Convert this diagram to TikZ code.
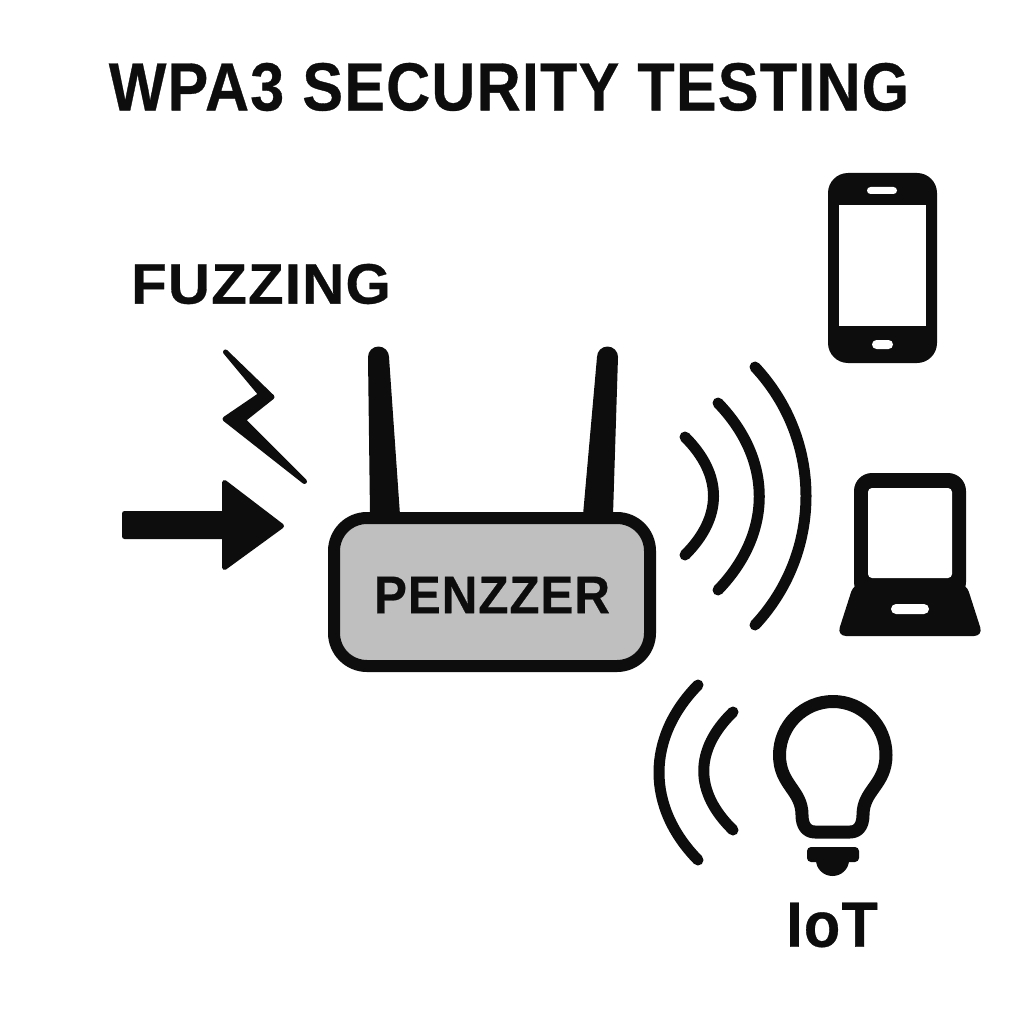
\documentclass[tikz,border=0pt]{standalone}
\usepackage{fontspec}
\setmainfont[BoldFeatures={FakeBold=0.5,LetterSpace=2}]{Liberation Sans}
\definecolor{ink}{HTML}{0D0D0D}
\tikzset{
  wave/.style={draw=ink,line width=11pt,line cap=round},
  solid shape/.style={fill=ink,draw=ink,line width=5pt,line join=round},
  hole/.style={fill=white},
  label text/.style={text=ink,font=\bfseries,inner sep=0pt,anchor=center}
}
\begin{document}
\begin{tikzpicture}[x=1pt,y=-1pt]
\useasboundingbox (0,0) rectangle (1024,1024);
\fill[white] (0,0) rectangle (1024,1024);
% texts
\node[label text] (title) at (509,87) {\scalebox{0.897}[1]{\fontsize{68}{68}\selectfont WPA3 SECURITY TESTING}};
\node[label text] (fuzz) at (261,284) {\scalebox{1.023}[1]{\fontsize{57}{57}\selectfont FUZZING}};
\node[label text] (iot) at (832,925) {\scalebox{0.93}[1]{\fontsize{64}{64}\selectfont IoT}};
% lightning
\path[solid shape] (225.5,352) -- (272,397) -- (243,420) -- (304.5,481.5) -- (225,419) -- (261,394.5) -- cycle;
% arrow
\path[solid shape] (124.5,513.5) -- (224.5,513.5) -- (224.5,482.5) -- (281.5,526) -- (224.5,567.5) -- (224.5,536.5) -- (124.5,536.5) -- cycle;
% antennas
\fill[ink] (370,515) -- (368,357) arc[start angle=180,end angle=360,x radius=10.5,y radius=10.5] -- (400,515) -- cycle;
\fill[ink] (583,515) -- (597,357) arc[start angle=180,end angle=360,x radius=10.5,y radius=10.5] -- (613,515) -- cycle;
% router
\node[draw=ink,line width=12pt,fill=black!25,rounded corners=33pt,minimum width=316pt,minimum height=148pt,inner sep=0pt] (router) at (492,592) {};
\node[label text] (pen) at (492,595) {\scalebox{0.93}[1]{\fontsize{53}{53}\selectfont PENZZER}};
% right waves
\draw[wave] (685,437) .. controls (723,475) and (723,517) .. (685,555);
\draw[wave] (718,403) .. controls (773,460) and (773,533) .. (718,590);
\draw[wave] (755,367) .. controls (823,440) and (823,552) .. (755,625);
% IoT waves
\draw[wave] (698,685) .. controls (646,738) and (646,807) .. (698,860);
\draw[wave] (733,712) .. controls (694,750) and (694,792) .. (733,830);
% phone
\fill[ink,rounded corners=20pt] (828,173) rectangle (937,363);
\fill[hole] (839,205) rectangle (926,326);
\fill[hole,rounded corners=3.5pt] (867,187) rectangle (897,194);
\fill[hole,rounded corners=4.5pt] (872,340) rectangle (893,349);
% laptop
\fill[ink,rounded corners=18pt] (854,473) rectangle (966,600);
\fill[ink,rounded corners=9pt] (854,583) -- (966,583) -- (983,636) -- (837,636) -- cycle;
\fill[hole,rounded corners=4pt] (868,488) rectangle (952,578);
\fill[hole,rounded corners=5pt] (891,604) rectangle (929,614);
% bulb
\draw[ink,line width=13pt,line join=round]
  (833,701.5) .. controls (862,701.5) and (886,725) .. (886,755)
  .. controls (886,785) and (863,790) .. (863,815)
  .. controls (863,826) and (858,832) .. (850,832)
  -- (815,832)
  .. controls (807,832) and (802,826) .. (802,815)
  .. controls (802,790) and (779.5,785) .. (779.5,755)
  .. controls (779.5,725) and (804,701.5) .. (833,701.5) -- cycle;
\fill[ink,rounded corners=4pt] (807,847) rectangle (859,862);
\fill[ink] (816,860) arc[start angle=180,end angle=0,x radius=16.5,y radius=16] -- cycle;
\end{tikzpicture}
\end{document}
